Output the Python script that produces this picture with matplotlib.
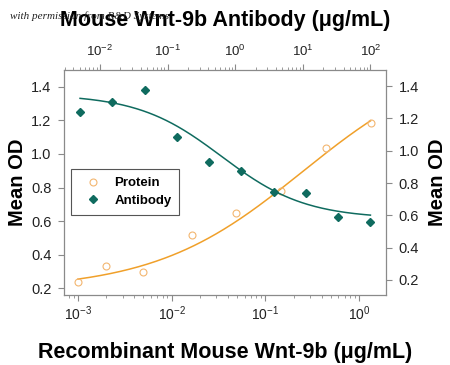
import matplotlib
matplotlib.use("Agg")
import matplotlib.pyplot as plt
import numpy as np
from matplotlib.ticker import LogLocator, NullFormatter

plt.rcParams['mathtext.default'] = 'regular'

# data
protein_conc = [0.001, 0.002, 0.005, 0.0164, 0.049, 0.148, 0.444, 1.33]
protein_od = [0.236, 0.333, 0.295, 0.519, 0.65, 0.777, 1.037, 1.186]
antibody_conc = [0.00508, 0.0152, 0.0457, 0.137, 0.412, 1.23, 3.70, 11.1, 33.3, 100]
antibody_od = [1.243, 1.305, 1.377, 1.083, 0.928, 0.873, 0.745, 0.737, 0.591, 0.562]

# 4PL curve parameters estimated from the drawn fits: (bottom, top, ec50, hill)
protein_fit = (0.19, 1.6, 0.25, 0.55)
antibody_fit = (0.58, 1.35, 0.63, -0.7)

y_ticks = [0.2, 0.4, 0.6, 0.8, 1.0, 1.2, 1.4]
y_ticklabels = ["0.2", "0.4", "0.6", "0.8", "1.0", "1.2", "1.4"]

teal = "#0f6b5f"
orange = "#f0a02a"
orange_light = "#f3b670"
spine_c = "#8a8a8a"
tick_font = ["Liberation Sans", "DejaVu Sans"]
sans = ["Liberation Sans", "DejaVu Sans"]


def four_pl(x, bottom, top, ec50, hill):
    x = np.asarray(x, dtype=float)
    return bottom + (top - bottom) / (1 + (ec50 / x) ** hill)


def style_log_x(axis_obj):
    axis_obj.set_major_locator(LogLocator(base=10, numticks=10))
    axis_obj.set_minor_locator(LogLocator(base=10, subs=np.arange(2, 10), numticks=10))
    axis_obj.set_minor_formatter(NullFormatter())


fig = plt.figure(figsize=(4.5, 3.65), dpi=100)
ax = fig.add_axes([0.1422, 0.1918, 0.7156, 0.6164])
axr = ax.twinx()
axt = axr.twiny()

# protein: bottom x, left y
ax.set_xscale("log")
ax.set_xlim(7.1e-4, 1.94)
ax.set_ylim(0.16, 1.5)
xs = np.geomspace(protein_conc[0], protein_conc[-1], 200)
ax.plot(xs, four_pl(xs, *protein_fit), color=orange, lw=1.1)
ax.plot(protein_conc, protein_od, ls="none", marker="o", ms=5, mfc="none",
        mec=orange_light, mew=0.8, label="Protein")

# antibody: top x, right y
axr.set_ylim(0.107, 1.5)
axt.set_xscale("log")
axt.set_xlim(2.94e-3, 170)
xs = np.geomspace(antibody_conc[0], antibody_conc[-1], 200)
axt.plot(xs, four_pl(xs, *antibody_fit), color=teal, lw=1.1)
axt.plot(antibody_conc, antibody_od, ls="none", marker="D", ms=4.2, mfc=teal,
         mec=teal, label="Antibody")

for a in (ax, axr, axt):
    for s in a.spines.values():
        s.set_visible(False)
for a, side in ((ax, "left"), (ax, "bottom"), (axr, "right"), (axt, "top")):
    a.spines[side].set_visible(True)
    a.spines[side].set_color(spine_c)
    a.spines[side].set_linewidth(0.9)

style_log_x(ax.xaxis)
style_log_x(axt.xaxis)
ax.tick_params(axis="x", which="major", direction="out", length=4, width=0.8,
               color=spine_c, pad=3, labelsize=10, labelcolor="#222222")
ax.tick_params(axis="x", which="minor", direction="out", length=2, width=0.6, color=spine_c)
axt.tick_params(axis="x", which="major", direction="out", length=4, width=0.8,
                color=spine_c, pad=4, labelsize=9.5, labelcolor="#222222")
axt.tick_params(axis="x", which="minor", direction="out", length=2, width=0.6, color=spine_c)
for lab in ax.get_xticklabels() + axt.get_xticklabels():
    lab.set_family(tick_font)

ax.set_yticks(y_ticks)
ax.set_yticklabels(y_ticklabels, family=tick_font, fontsize=10.5)
axr.set_yticks(y_ticks)
axr.set_yticklabels(y_ticklabels, family=tick_font, fontsize=10.5)
ax.tick_params(axis="y", direction="out", length=4, width=0.8, color=spine_c,
               pad=5, labelcolor="#222222")
axr.tick_params(axis="y", direction="out", length=4, width=0.8, color=spine_c,
                pad=5, labelcolor="#222222")

handles = ax.get_legend_handles_labels()[0] + axt.get_legend_handles_labels()[0]
leg = axt.legend(handles, ["Protein", "Antibody"], loc="upper left",
                 bbox_to_anchor=(0.021, 0.559), borderaxespad=0, fancybox=False,
                 edgecolor="#555555", framealpha=1, numpoints=1,
                 handlelength=2.2, handletextpad=0.5, borderpad=0.6,
                 labelspacing=0.4, prop={"family": sans, "weight": "bold", "size": 9.5})
leg.get_frame().set_linewidth(0.8)

fig.text(0.5, 0.9288, "Mouse Wnt-9b Antibody (\u03bcg/mL)", ha="center", va="baseline",
         family=sans, weight="bold", fontsize=15.5, color="black")
fig.text(0.5, 0.019, "Recombinant Mouse Wnt-9b (\u03bcg/mL)", ha="center", va="baseline",
         family=sans, weight="bold", fontsize=15.5, color="black")
fig.text(0.04, 0.502, "Mean OD", rotation=90, ha="center", va="center",
         family=sans, weight="bold", fontsize=14.5, color="black")
fig.text(0.973, 0.501, "Mean OD", rotation=90, ha="center", va="center",
         family=sans, weight="bold", fontsize=14.5, color="black")
fig.text(0.022, 0.955, "with permission from R&D Systems", ha="left", va="center",
         family=["Liberation Serif", "DejaVu Serif"], style="italic", fontsize=8,
         color="#222222", zorder=10)

fig.savefig("out.png", dpi=100)
